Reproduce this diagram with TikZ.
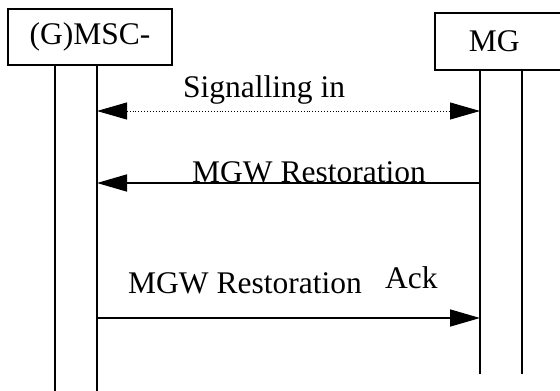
\documentclass[tikz,border=0pt]{standalone}
\usepackage{fontspec}
\setmainfont{Liberation Serif}
\usetikzlibrary{arrows.meta}

\tikzset{
  entity/.style={draw, line width=1.6pt, minimum height=57pt, inner sep=0pt,
    font=\fontsize{31.5}{36}\selectfont},
  lifeline/.style={line width=1.6pt},
  msg/.style={line width=1.6pt, ->},
  msglabel/.style={anchor=base west, inner sep=0pt, font=\fontsize{31.5}{36}\selectfont},
}

\begin{document}
\begin{tikzpicture}[x=1pt, y=-1pt, >={Triangle[length=30pt,width=17pt]}]
    \clip (0,0) rectangle (560,391);
    % entities
    \node[entity, minimum width=164pt, minimum height=56pt] (msc) at (90,37) {(G)MSC-};
    \node[entity, anchor=north west, text width=100pt, inner xsep=34pt, align=left] (mg) at (434,12) {MG};
    % lifelines
    \coordinate (msc-a) at (55,391);
    \coordinate (msc-b) at (97,391);
    \coordinate (mg-a) at (480,374);
    \coordinate (mg-b) at (522,374);
    \foreach \l in {msc-a,msc-b}
        \draw[lifeline] (\l |- msc.south) -- (\l);
    \foreach \l in {mg-a,mg-b}
        \draw[lifeline] (\l |- mg.south) -- (\l);
    % message end points
    \foreach \y/\n in {111/1,183/2,318/3} {
        \coordinate (l\n) at (97,\y);
        \coordinate (r\n) at (480,\y);
    }
    % messages
    \draw[dotted, line width=0.9pt, <->] (l1) -- (r1);
    \draw[msg] (r2) -- (l2);
    \draw[msg] (l3) -- (r3);
    \node[msglabel] (sig) at (183,97) {Signalling in};
    \node[msglabel] (rest) at (192,182) {MGW Restoration};
    \node[msglabel] (restack) at (128,293) {MGW Restoration};
    \node[msglabel] (ack) at (385,288) {Ack};
\end{tikzpicture}
\end{document}
